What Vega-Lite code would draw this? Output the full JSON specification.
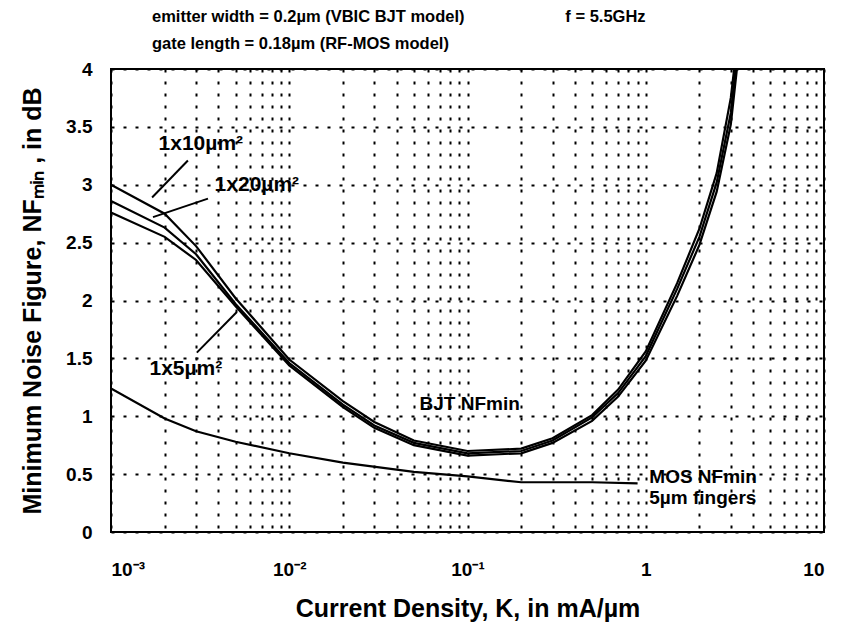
{
  "$schema": "https://vega.github.io/schema/vega-lite/v6.json",
  "width": 713,
  "height": 463,
  "autosize": "none",
  "padding": {"left": 111, "top": 69, "right": 17, "bottom": 95},
  "background": "white",
  "config": {
    "font": "Liberation Sans",
    "view": {"stroke": "black", "strokeWidth": 2},
    "axis": {"domain": false, "ticks": false, "grid": true, "gridColor": "black", "gridWidth": 2, "gridDash": [3, 9], "gridOpacity": 1,
      "labelFont": "Liberation Sans", "labelFontWeight": "bold", "labelFontSize": 19, "labelColor": "black",
      "titleFont": "Liberation Sans", "titleFontWeight": "bold", "titleFontSize": 25, "titleColor": "black"}
  },
  "title": {
    "text": ["emitter width = 0.2µm (VBIC BJT model)\u00a0\u00a0\u00a0\u00a0\u00a0\u00a0\u00a0\u00a0\u00a0\u00a0\u00a0\u00a0\u00a0\u00a0\u00a0\u00a0\u00a0\u00a0\u00a0\u00a0\u00a0\u00a0f = 5.5GHz", "gate length = 0.18µm (RF-MOS model)"],
    "anchor": "start", "frame": "group", "dx": 41, "offset": 8, "lineHeight": 27,
    "font": "Liberation Sans", "fontSize": 16.5, "fontWeight": "bold", "color": "black"
  },
  "datasets": {
    "curves": [
      {"series": "1x10", "K": 0.001, "NF": 3.0},
      {"series": "1x10", "K": 0.002, "NF": 2.75},
      {"series": "1x10", "K": 0.003, "NF": 2.47},
      {"series": "1x10", "K": 0.005, "NF": 2.02},
      {"series": "1x10", "K": 0.01, "NF": 1.49},
      {"series": "1x10", "K": 0.02, "NF": 1.13},
      {"series": "1x10", "K": 0.03, "NF": 0.95},
      {"series": "1x10", "K": 0.05, "NF": 0.79},
      {"series": "1x10", "K": 0.1, "NF": 0.70},
      {"series": "1x10", "K": 0.2, "NF": 0.72},
      {"series": "1x10", "K": 0.3, "NF": 0.81},
      {"series": "1x10", "K": 0.5, "NF": 1.01},
      {"series": "1x10", "K": 0.7, "NF": 1.23},
      {"series": "1x10", "K": 1.0, "NF": 1.56},
      {"series": "1x10", "K": 1.5, "NF": 2.15},
      {"series": "1x10", "K": 2.0, "NF": 2.62},
      {"series": "1x10", "K": 2.5, "NF": 3.1},
      {"series": "1x10", "K": 3.0, "NF": 3.75},
      {"series": "1x10", "K": 3.3, "NF": 4.3},
      {"series": "1x20", "K": 0.001, "NF": 2.86},
      {"series": "1x20", "K": 0.002, "NF": 2.63},
      {"series": "1x20", "K": 0.003, "NF": 2.40},
      {"series": "1x20", "K": 0.005, "NF": 1.97},
      {"series": "1x20", "K": 0.01, "NF": 1.46},
      {"series": "1x20", "K": 0.02, "NF": 1.10},
      {"series": "1x20", "K": 0.03, "NF": 0.92},
      {"series": "1x20", "K": 0.05, "NF": 0.77},
      {"series": "1x20", "K": 0.1, "NF": 0.68},
      {"series": "1x20", "K": 0.2, "NF": 0.70},
      {"series": "1x20", "K": 0.3, "NF": 0.79},
      {"series": "1x20", "K": 0.5, "NF": 0.99},
      {"series": "1x20", "K": 0.7, "NF": 1.20},
      {"series": "1x20", "K": 1.0, "NF": 1.52},
      {"series": "1x20", "K": 1.5, "NF": 2.10},
      {"series": "1x20", "K": 2.0, "NF": 2.55},
      {"series": "1x20", "K": 2.5, "NF": 3.02},
      {"series": "1x20", "K": 3.0, "NF": 3.62},
      {"series": "1x20", "K": 3.3, "NF": 4.2},
      {"series": "1x5", "K": 0.001, "NF": 2.76},
      {"series": "1x5", "K": 0.002, "NF": 2.55},
      {"series": "1x5", "K": 0.003, "NF": 2.35},
      {"series": "1x5", "K": 0.005, "NF": 1.95},
      {"series": "1x5", "K": 0.01, "NF": 1.44},
      {"series": "1x5", "K": 0.02, "NF": 1.08},
      {"series": "1x5", "K": 0.03, "NF": 0.90},
      {"series": "1x5", "K": 0.05, "NF": 0.75},
      {"series": "1x5", "K": 0.1, "NF": 0.66},
      {"series": "1x5", "K": 0.2, "NF": 0.68},
      {"series": "1x5", "K": 0.3, "NF": 0.77},
      {"series": "1x5", "K": 0.5, "NF": 0.96},
      {"series": "1x5", "K": 0.7, "NF": 1.17},
      {"series": "1x5", "K": 1.0, "NF": 1.48},
      {"series": "1x5", "K": 1.5, "NF": 2.04},
      {"series": "1x5", "K": 2.0, "NF": 2.48},
      {"series": "1x5", "K": 2.5, "NF": 2.94},
      {"series": "1x5", "K": 3.0, "NF": 3.52},
      {"series": "1x5", "K": 3.3, "NF": 4.1},
      {"series": "MOS", "K": 0.001, "NF": 1.24},
      {"series": "MOS", "K": 0.002, "NF": 0.98},
      {"series": "MOS", "K": 0.003, "NF": 0.87},
      {"series": "MOS", "K": 0.005, "NF": 0.78},
      {"series": "MOS", "K": 0.01, "NF": 0.68},
      {"series": "MOS", "K": 0.02, "NF": 0.60},
      {"series": "MOS", "K": 0.05, "NF": 0.52},
      {"series": "MOS", "K": 0.1, "NF": 0.48},
      {"series": "MOS", "K": 0.2, "NF": 0.43},
      {"series": "MOS", "K": 0.5, "NF": 0.43},
      {"series": "MOS", "K": 0.9, "NF": 0.42}
    ],
    "pointers": [
      {"K1": 0.0027, "NF1": 3.21, "K2": 0.0017, "NF2": 2.89},
      {"K1": 0.0035, "NF1": 2.88, "K2": 0.00172, "NF2": 2.72},
      {"K1": 0.00303, "NF1": 1.55, "K2": 0.00508, "NF2": 1.90}
    ],
    "labelsC": [
      {"text": "1x10µm²", "K": 0.00319, "NF": 3.35},
      {"text": "1x20µm²", "K": 0.00658, "NF": 3.0},
      {"text": "1x5µm²", "K": 0.00263, "NF": 1.41}
    ],
    "labelsL": [
      {"text": "BJT NFmin", "K": 0.0538, "NF": 1.105},
      {"text": "MOS NFmin", "K": 1.047, "NF": 0.475},
      {"text": "5µm fingers", "K": 1.047, "NF": 0.29}
    ]
  },
  "encoding": {
    "x": {"field": "K", "type": "quantitative",
      "scale": {"type": "log", "domain": [0.001, 10], "nice": false},
      "axis": {"title": "Current Density, K, in mA/µm", "titlePadding": 17, "labelPadding": 28, "labelOverlap": false,
        "values": [0.001,0.002,0.003,0.004,0.005,0.006,0.007,0.008,0.009,0.01,0.02,0.03,0.04,0.05,0.06,0.07,0.08,0.09,0.1,0.2,0.3,0.4,0.5,0.6,0.7,0.8,0.9,1,2,3,4,5,6,7,8,9,10],
        "labelExpr": "datum.value == 0.001 ? '10⁻³' : datum.value == 0.01 ? '10⁻²' : datum.value == 0.1 ? '10⁻¹' : datum.value == 1 ? '1' : datum.value == 10 ? '10' : ''"}},
    "y": {"field": "NF", "type": "quantitative",
      "scale": {"domain": [0, 4], "nice": false, "zero": true},
      "axis": {"title": "Minimum Noise Figure, NFₘᵢₙ , in dB", "titlePadding": 20, "labelPadding": 19, "format": "~g",
        "values": [0, 0.5, 1, 1.5, 2, 2.5, 3, 3.5, 4]}}
  },
  "layer": [
    {
      "data": {"name": "curves"},
      "mark": {"type": "line", "color": "black", "strokeWidth": 2.2, "clip": true},
      "encoding": {"detail": {"field": "series"}}
    },
    {
      "data": {"name": "pointers"},
      "mark": {"type": "rule", "color": "black", "strokeWidth": 2},
      "encoding": {
        "x": {"field": "K1", "type": "quantitative"},
        "y": {"field": "NF1", "type": "quantitative"},
        "x2": {"field": "K2"},
        "y2": {"field": "NF2"}
      }
    },
    {
      "data": {"name": "labelsC"},
      "mark": {"type": "text", "font": "Liberation Sans", "fontWeight": "bold", "fontSize": 21, "color": "black", "baseline": "middle", "align": "center"},
      "encoding": {"text": {"field": "text"}}
    },
    {
      "data": {"name": "labelsL"},
      "mark": {"type": "text", "font": "Liberation Sans", "fontWeight": "bold", "fontSize": 19, "color": "black", "baseline": "middle", "align": "left"},
      "encoding": {"text": {"field": "text"}}
    }
  ]
}
